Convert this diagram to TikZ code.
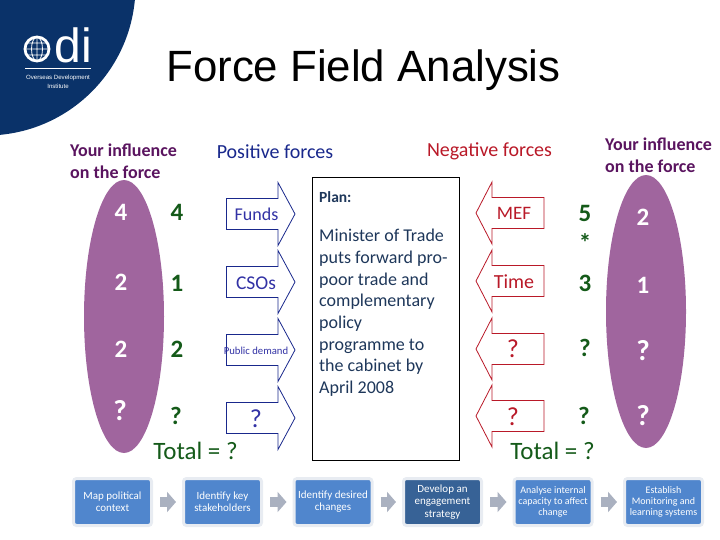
\documentclass[tikz,border=0pt]{standalone}
\usepackage{fontspec}
\setmainfont{Carlito}
\newfontfamily\titlefont{Liberation Sans}
\usetikzlibrary{arrows.meta,positioning,calc}
\definecolor{odiblue}{RGB}{10,50,105}
\definecolor{plum}{RGB}{160,101,158}
\definecolor{plumdark}{RGB}{90,20,95}
\definecolor{posblue}{RGB}{25,40,140}
\definecolor{poslabel}{RGB}{50,50,165}
\definecolor{negred}{RGB}{185,25,40}
\definecolor{scoregreen}{RGB}{20,90,25}
\definecolor{plantext}{RGB}{30,55,90}
\definecolor{stepblue}{RGB}{80,134,205}
\definecolor{stepdark}{RGB}{55,98,150}
\definecolor{stepedge}{RGB}{232,236,242}
\definecolor{flowgray}{RGB}{170,177,192}
\tikzset{
  influence/.style={font=\fontsize{18}{21.5}\selectfont\bfseries,text=plumdark,align=left,anchor=west,inner sep=0pt},
  heading/.style={font=\fontsize{20}{24}\selectfont,inner sep=0pt},
  whitescore/.style={font=\fontsize{25}{28}\selectfont\bfseries,text=white,inner sep=0pt},
  whiteask/.style={font=\fontsize{29}{30}\selectfont\bfseries,text=white,inner sep=0pt},
  score/.style={font=\fontsize{25}{28}\selectfont\bfseries,text=scoregreen,inner sep=0pt},
  total/.style={font=\fontsize{25}{28}\selectfont,text=scoregreen,inner sep=0pt},
  stepbox/.style={fill=stepblue,draw=stepedge,line width=3pt,rounded corners=3pt,minimum width=78pt,minimum height=47pt,
    inner sep=0pt,align=center,text=white,font=\fontsize{11}{12.2}\selectfont},
  smallstep/.style={font=\fontsize{10}{11}\selectfont},
  flow/.style={draw=flowgray,line width=10pt,-{Triangle[width=20pt,length=9pt]},shorten <=7pt,shorten >=6pt},
  posforce/.style={draw=posblue,fill=white,line width=0.8pt},
  negforce/.style={draw=negred,fill=white,line width=0.8pt}
}
\begin{document}
\begin{tikzpicture}[x=1pt,y=-1pt]
\useasboundingbox (0,0) rectangle (720,540);
% logo
\begin{scope}
\clip (0,0) rectangle (720,540);
\fill[odiblue] (-14,-14) circle (149.5);
\end{scope}
\draw[white,line width=2.8pt] (37,49) circle (12);
\draw[white,line width=0.8pt] (37,49) ellipse (5.5 and 12) (37,37)--(37,61) (25,49)--(49,49) (27,43)--(47,43) (27,55)--(47,55);
\node[inner sep=0pt,text=white] (logoname) at (73,45) {\titlefont\fontsize{48}{48}\selectfont di};
\draw[white,line width=0.7pt] (25,68)--(91,68);
\node[inner sep=0pt,text=white,align=center,font=\titlefont\fontsize{6.1}{9}\selectfont] (logotext) at (58,81.5) {Overseas Development\\Institute};
% title
\node[inner sep=0pt,font=\titlefont\fontsize{43.8}{50}\selectfont] (title) at (363.5,70) {Force Field Analysis};
% headings
\node[influence] (infleft) at (70,161.5) {Your influence\\on the force};
\node[influence] (infright) at (605,155.5) {Your influence\\on the force};
\node[heading,text=posblue] (positive) at (275,152) {Positive forces};
\node[heading,text=negred] (negative) at (489.5,151) {Negative forces};
% influence ovals
\fill[plum] (124,316.5) ellipse (40 and 136.5);
\fill[plum] (646,311.5) ellipse (40 and 136.5);
% force arrows
\foreach \y in {214,282,350,418}
  \draw[posforce] (226.5,\y-15.5)--(278,\y-15.5)--(278,\y-31.5)--(295,\y)--(278,\y+31.5)--(278,\y+15.5)--(226.5,\y+15.5)--cycle;
\foreach \y in {213,281,349,416}
  \draw[negforce] (544,\y-15.5)--(492,\y-15.5)--(492,\y-31)--(476,\y)--(492,\y+31)--(492,\y+15.5)--(544,\y+15.5)--cycle;
% plan box
\draw[black,line width=0.8pt] (312,177) rectangle (459,460);
\node[anchor=west,inner sep=0pt,text=plantext,font=\fontsize{15.5}{18}\selectfont\bfseries] (planhead) at (319,197) {Plan:};
\node[anchor=north west,inner sep=0pt,align=left,text=plantext,font=\fontsize{18}{21.7}\selectfont] (plan) at (319,229) {Minister of Trade\\puts forward pro-\\poor trade and\\complementary\\policy\\programme to\\the cabinet by\\April 2008};
% force labels
\node[inner sep=0pt,text=poslabel,font=\fontsize{18}{20}\selectfont] (funds) at (256.5,214) {Funds};
\node[inner sep=0pt,text=poslabel,font=\fontsize{19.5}{22}\selectfont] (csos) at (256,283) {CSOs};
\node[inner sep=0pt,text=poslabel,font=\fontsize{10.7}{12}\selectfont] (demand) at (256,351) {Public demand};
\node[inner sep=0pt,text=poslabel,font=\fontsize{26}{28}\selectfont] (posq) at (256,419) {?};
\node[inner sep=0pt,text=negred,font=\fontsize{19}{22}\selectfont] (mef) at (514,213) {MEF};
\node[inner sep=0pt,text=negred,font=\fontsize{20}{22}\selectfont] (time) at (514,282) {Time};
\node[inner sep=0pt,text=negred,font=\fontsize{26}{28}\selectfont] (negq) at (513,349) {?};
\node[inner sep=0pt,text=negred,font=\fontsize{26}{28}\selectfont] (negr) at (513,417) {?};
% scores left
\node[whitescore] (la) at (121,212) {4};
\node[whitescore] (lb) at (121,282) {2};
\node[whitescore] (lc) at (121,349) {2};
\node[whiteask] (ld) at (120,411) {?};
\node[score] (pa) at (177,212) {4};
\node[score] (pb) at (177,283) {1};
\node[score] (pc) at (177,349) {2};
\node[score] (pd) at (176,416) {?};
% scores right
\node[score] (na) at (585,213) {5};
\node[score] (nstar) at (585,243) {*};
\node[score] (nb) at (585,283) {3};
\node[score] (nc) at (585,348) {?};
\node[score] (nd) at (584,416) {?};
\node[whitescore] (ra) at (643,217) {2};
\node[whitescore] (rb) at (643,285) {1};
\node[whiteask] (rc) at (643,351) {?};
\node[whiteask] (rd) at (643,416) {?};
% totals
\node[total] (totalpos) at (195.5,451) {Total = ?};
\node[total] (totalneg) at (552.5,451) {Total = ?};
% process chain
\node[stepbox] (context) at (112.5,502) {Map political\\context};
\node[stepbox] (holders) at (222.5,502) {Identify key\\stakeholders};
\node[stepbox] (changes) at (333,502) {Identify desired\\changes};
\node[stepbox,fill=stepdark] (strategy) at (442.5,502) {Develop an\\engagement\\strategy};
\node[stepbox,smallstep] (capacity) at (553,502) {Analyse internal\\capacity to affect\\change};
\node[stepbox,smallstep] (systems) at (663.5,502) {Establish\\Monitoring and\\learning systems};
\draw[flow] (context)--(holders);
\draw[flow] (holders)--(changes);
\draw[flow] (changes)--(strategy);
\draw[flow] (strategy)--(capacity);
\draw[flow] (capacity)--(systems);
\end{tikzpicture}
\end{document}
